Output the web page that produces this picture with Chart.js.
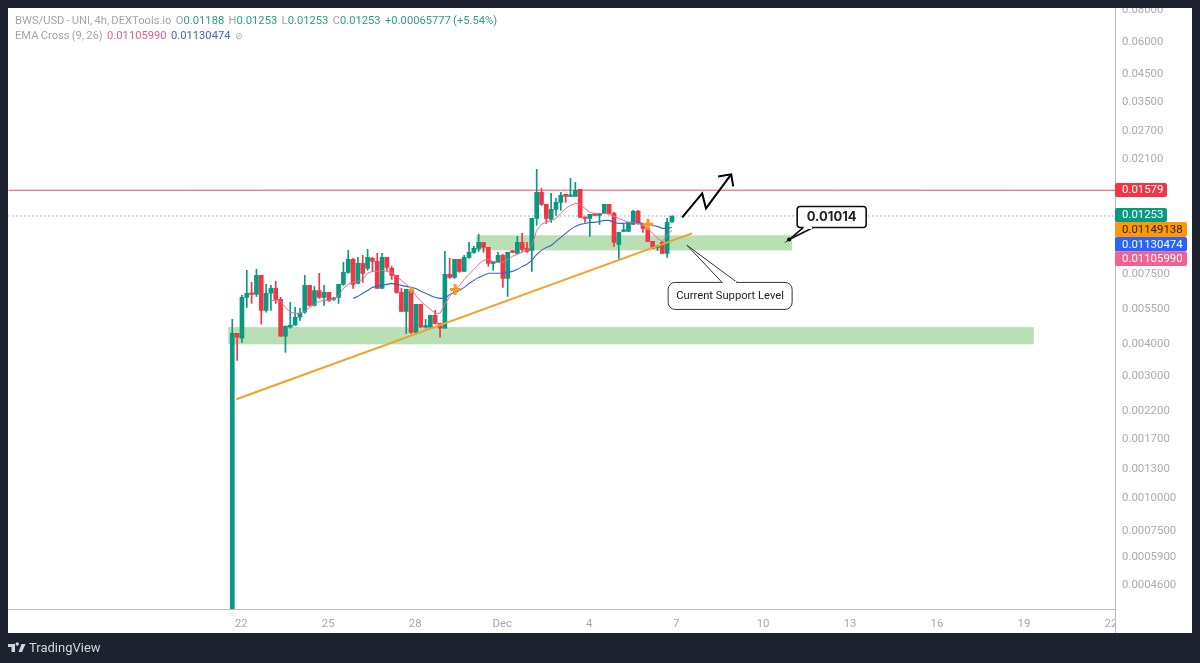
<!DOCTYPE html>
<html>
<head>
<meta charset="utf-8">
<title>BWS/USD</title>
<script src="https://cdn.jsdelivr.net/npm/chart.js@4/dist/chart.umd.js"></script>
<style>
html,body{margin:0;padding:0;background:#1d222e;width:1200px;height:663px;overflow:hidden;font-family:Roboto,"Liberation Sans",sans-serif}
#c{position:absolute;left:0;top:0}
.h{position:absolute;left:15px;font-size:11.2px;line-height:14px;color:#a2a5ab;white-space:pre;word-spacing:-0.6px}
.g{color:#2b9d84}.p{color:#e2608f}.b{color:#4663c4}
.k{font-size:9px}
#tv{position:absolute;left:8px;top:641px;height:14px}
#tvt{position:absolute;left:29px;top:640px;font-size:13px;line-height:16px;color:#d1d4dc}
</style>
</head>
<body>
<canvas id="c" width="1200" height="663"></canvas>
<div class="h" style="top:14px">BWS/USD - UNI, 4h, DEXTools.io  O<span class="g">0.01188</span>  H<span class="g">0.01253</span>  L<span class="g">0.01253</span>  C<span class="g">0.01253</span>  <span class="g">+0.00065777 (+5.54%)</span></div>
<div class="h" style="top:29px">EMA Cross (9, 26)  <span class="p">0.01105990</span>  <span class="b">0.01130474</span>  <span class="k">⊘</span></div>
<svg id="tv" viewBox="0 0 36 28" width="18" height="14"><path fill="#d1d4dc" d="M14 6H0v6h7v10h7V6zm14 16h-7l6-16h8l-7 16zm-6-16a3.5 3.5 0 1 1-7 0 3.5 3.5 0 0 1 7 0z"/></svg>
<div id="tvt">TradingView</div>
<script>
// Candles, 4h apart, first candle sits this many days before the "22" tick
const firstCandleDay = -0.31;
const candlesPerDay = 6;
const opens = [.00030,.00437,.00418,.00603,.00626,.00620,.00735,.00537,.00626,.00654,
.00593,.00426,.00462,.00470,.00505,.00528,.00672,.00562,.00642,.00603,
.00631,.00593,.00603,.00678,.00755,.00849,.00684,.00819,.00783,.00856,
.00834,.00654,.00864,.00783,.00735,.00631,.00532,.00648,.00441,.00567,
.00462,.00462,.00514,.00478,.00458,.00742,.00722,.00849,.00762,.00864,
.00904,.00937,.00988,.00945,.00819,.00826,.00880,.00716,.00912,.00896,
.00988,.00937,.00920,.01226,.01548,.01390,.01215,.01329,.01415,.01521,
.01494,.01494,.01590,.01237,.01226,.01271,.01259,.01282,.01390,.01282,
.00971,.01091,.01091,.01162,.01305,.01172,.01121,.00997,.00945,.00988,
.00896,.01188];
const closes = [.00437,.00422,.00603,.00626,.00620,.00735,.00537,.00626,.00654,.00593,
.00426,.00466,.00470,.00505,.00523,.00672,.00562,.00642,.00603,.00631,
.00587,.00598,.00678,.00755,.00849,.00678,.00819,.00749,.00864,.00834,
.00654,.00864,.00790,.00735,.00631,.00532,.00648,.00441,.00567,.00462,
.00466,.00514,.00478,.00458,.00742,.00722,.00849,.00762,.00864,.00904,
.00937,.00988,.00945,.00819,.00826,.00880,.00716,.00904,.00904,.00988,
.00928,.00912,.01226,.01548,.01390,.01226,.01329,.01415,.01507,.01494,
.01507,.01576,.01237,.01226,.01271,.01259,.01282,.01390,.01282,.00988,
.01081,.01101,.01172,.01305,.01172,.01121,.00997,.00937,.00954,.00896,
.01183,.01253];
const highs = [.00496,.00437,.00614,.00769,.00690,.00776,.00735,.00678,.00672,.00697,
.00603,.00466,.00577,.00552,.00547,.00735,.00672,.00666,.00749,.00672,
.00631,.00603,.00678,.00826,.00920,.00856,.00864,.00880,.00928,.00864,
.00896,.00896,.00864,.00797,.00735,.00654,.00648,.00660,.00567,.00567,
.00496,.00514,.00537,.00478,.00912,.00856,.00849,.00849,.00880,.00988,
.00954,.01062,.00988,.00945,.00826,.00904,.00888,.00904,.00920,.01043,
.01072,.00988,.01226,.01903,.01605,.01390,.01534,.01467,.01548,.01521,
.01755,.01693,.01590,.01237,.01271,.01271,.01282,.01390,.01390,.01294,
.01081,.01162,.01172,.01317,.01317,.01172,.01183,.00997,.00954,.00997,
.01226,.01253];
const lows = [.00030,.00343,.00403,.00552,.00572,.00609,.00474,.00528,.00537,.00572,
.00426,.00368,.00458,.00470,.00491,.00523,.00557,.00557,.00598,.00562,
.00582,.00587,.00572,.00672,.00749,.00654,.00684,.00690,.00769,.00762,
.00654,.00654,.00769,.00709,.00626,.00532,.00437,.00437,.00441,.00462,
.00458,.00458,.00474,.00422,.00458,.00716,.00716,.00755,.00762,.00856,
.00896,.00912,.00904,.00797,.00769,.00826,.00660,.00609,.00904,.00896,
.00912,.00904,.00762,.01151,.01378,.01172,.01183,.01259,.01317,.01415,
.01494,.01494,.01237,.01183,.01043,.01259,.01162,.01282,.01282,.00954,
.00849,.01091,.01091,.01162,.01162,.01081,.00997,.00937,.00920,.00896,
.00864,.01183];
// EMA lines start later than the candles
const ema9Start = 8;
const ema9 = [.00587,.00587,.00582,.00552,.00528,.00523,.00523,.00532,.00552,.00567,
.00582,.00587,.00587,.00593,.00614,.00654,.00678,.00690,.00697,.00709,
.00749,.00762,.00762,.00769,.00762,.00755,.00729,.00703,.00678,.00654,
.00614,.00582,.00562,.00542,.00523,.00523,.00567,.00609,.00642,.00672,
.00709,.00742,.00776,.00812,.00841,.00849,.00834,.00826,.00826,.00849,
.00872,.00888,.00904,.00920,.00962,.01101,.01162,.01183,.01204,.01226,
.01282,.01341,.01378,.01403,.01390,.01341,.01294,.01282,.01282,.01282,
.01271,.01248,.01226,.01204,.01183,.01183,.01172,.01151,.01121,.01072,
.01025,.00997,.01053,.01106];
const ema26Start = 25;
const ema26 = [.00598,.00609,.00626,.00642,.00660,.00666,.00672,.00678,.00684,.00678,
.00672,.00666,.00660,.00654,.00637,.00626,.00614,.00603,.00598,.00598,
.00620,.00631,.00642,.00660,.00684,.00703,.00722,.00735,.00749,.00749,
.00749,.00749,.00755,.00762,.00776,.00797,.00812,.00841,.00888,.00920,
.00945,.00962,.00997,.01034,.01072,.01111,.01141,.01162,.01172,.01183,
.01183,.01193,.01204,.01204,.01183,.01172,.01172,.01183,.01183,.01183,
.01172,.01162,.01151,.01141,.01121,.01121,.01130];
// Axis ticks (x in days after 22 Nov)
const xTickDays = [0,3,6,9,12,15,18,21,24,27,30];
const xTickLabels = ['22','25','28','Dec','4','7','10','13','16','19','22'];
const yTickValues = [.08,.06,.045,.035,.027,.021,.0075,.0055,.004,.003,.0022,.0017,.0013,.001,.00075,.00059,.00046];
const yTickLabels = ['0.08000','0.06000','0.04500','0.03500','0.02700','0.02100','0.007500','0.005500','0.004000','0.003000','0.002200','0.001700','0.001300','0.0010000','0.0007500','0.0005900','0.0004600'];
// Drawing tools
const resistanceLevel = [0.01579];
const lastPriceLevel = [0.01253];
const trendDays = [-0.17,15.55];
const trendValues = [.002418,.01072];
const crossDays = [5.86,7.38,14.03];
const crossValues = [.00645,.00648,.01162];
const pathDays = [15.21,15.90,16.03,16.90];
const pathValues = [.01237,.01534,.01341,.01820];
const headDays = [16.45,16.90,16.97];
const headValues = [.01787,.01820,.01634];
const zoneDays = [[-0.448,27.34],[8.10,19.0]];
const zoneValues = [[.00462,.00396],[.01053,.00920]];
const tagTexts = ['0.01579','0.01253','0.01149138','0.01130474','0.01105990'];
const tagColors = ['#f23645','#089981','#ff9800','#2962ff','#f06292'];
const tagTextColors = ['#fff','#fff','#222','#fff','#fff'];

const GREEN='#089981', RED='#f23645';
const dayOf = i => firstCandleDay + i/candlesPerDay;
const up = opens.map((o,i)=>closes[i]>=o);
const cols = up.map(u=>u?GREEN:RED);
const wickPts = highs.map((h,i)=>({x:dayOf(i),y:[lows[i],h]}));
const bodyPts = opens.map((o,i)=>({x:dayOf(i),y:[Math.min(o,closes[i]),Math.max(o,closes[i])]}));
const lvl = (v)=>[{x:-9,y:v},{x:31,y:v}];
const xy = (ds,vs)=>ds.map((d,i)=>({x:d,y:vs[i]}));
const lineBase = {type:'line',pointRadius:0,borderJoinStyle:'miter',tension:0,fill:false};

const panel = {id:'panel',
 beforeDraw(ch){const c=ch.ctx;c.save();c.fillStyle='#fff';c.fillRect(8,8,1184,625);c.restore();},
 beforeDatasetsDraw(ch){
  const c=ch.ctx,X=ch.scales.x,Y=ch.scales.y;c.save();c.fillStyle='#b9dfb5';
  zoneDays.forEach((z,i)=>{const x0=X.getPixelForValue(z[0]),x1=X.getPixelForValue(z[1]),y0=Y.getPixelForValue(zoneValues[i][0]),y1=Y.getPixelForValue(zoneValues[i][1]);c.fillRect(x0,y0,x1-x0,y1-y0);});
  c.restore();
 },
 afterDatasetsDraw(ch){
  const c=ch.ctx,X=ch.scales.x,Y=ch.scales.y;c.save();
  const callout=(d,v,bx,by,w,h,b0,b1,text,font,baseOnTop,dot)=>{
   const ax=X.getPixelForValue(d),ay=Y.getPixelForValue(v);
   const l=ax+bx,t=ay+by,ey=baseOnTop?t:t+h;
   c.fillStyle='#fff';c.strokeStyle=baseOnTop?'#333':'#111';c.lineWidth=baseOnTop?1:1.6;
   c.beginPath();c.roundRect(l,t,w,h,baseOnTop?7:3);c.fill();c.stroke();
   c.beginPath();c.moveTo(ax+b0,ey);c.lineTo(ax,ay);c.lineTo(ax+b1,ey);c.closePath();c.fill();
   c.beginPath();c.moveTo(ax+b0,ey);c.lineTo(ax,ay);c.lineTo(ax+b1,ey);c.stroke();
   c.fillStyle='#fff';c.fillRect(ax+b0+1,ey-1.2,b1-b0-2,2.6);
   if(dot){c.fillStyle='#000';c.beginPath();c.arc(ax,ay,2,0,7);c.fill();}
   c.fillStyle='#222';c.font=font;c.textAlign='center';c.textBaseline='middle';c.fillText(text,l+w/2,t+h/2+0.5);
  };
  callout(15.38,.00962,-19,37,124,27,35,50,'Current Support Level','11.2px Roboto',true,false);
  callout(18.9,.01014,8,-33,69,21,14,24,'0.01014','700 13px Inter',false,true);
  c.restore();
 },
 afterDraw(ch){
  const c=ch.ctx,X=ch.scales.x,Y=ch.scales.y;c.save();
  // price scale covers the last time label
  c.fillStyle='#fff';c.fillRect(1115,610,77,23);
  c.fillStyle='#b8bbc0';c.fillRect(1115,8,1,625);
  // frame over the clipped top label
  c.fillStyle='#1d222e';c.fillRect(1000,0,200,8);
  // price tags
  const tops=[183,208,222,237,251.5],hs=[14,14,15,14.5,14.5],ws=[52,52,72,72,72];
  c.font='11.4px Roboto';c.textAlign='left';c.textBaseline='middle';
  tagTexts.forEach((t,i)=>{
   c.fillStyle=tagColors[i];c.beginPath();c.roundRect(1115,tops[i],ws[i],hs[i],2);c.fill();
   c.fillStyle=tagTextColors[i];c.fillText(t,1122,tops[i]+hs[i]/2+0.5);
  });
  c.restore();
 }
};

new Chart(document.getElementById('c'),{
 data:{datasets:[
  {...lineBase,label:'Resistance',data:lvl(resistanceLevel[0]),borderColor:'#e04f5c',borderWidth:1,order:8},
  {...lineBase,label:'Last price',data:lvl(lastPriceLevel[0]),borderColor:'#2a9d8f',borderWidth:1,borderDash:[1,3],order:8},
  {type:'bar',label:'Wicks',data:wickPts,backgroundColor:cols,barThickness:1,grouped:false,order:6},
  {type:'bar',label:'Bodies',data:bodyPts,backgroundColor:cols,barThickness:4,minBarLength:1.5,grouped:false,order:5},
  {...lineBase,label:'EMA 9',data:ema9.map((v,i)=>({x:dayOf(i+ema9Start),y:v})),borderColor:'#e86a98',borderWidth:1,order:4},
  {...lineBase,label:'EMA 26',data:ema26.map((v,i)=>({x:dayOf(i+ema26Start),y:v})),borderColor:'#3f62cc',borderWidth:1.1,order:4},
  {...lineBase,label:'Trend',data:xy(trendDays,trendValues),borderColor:'#f0a32a',borderWidth:2,order:3},
  {...lineBase,label:'Cross',data:xy(crossDays,crossValues),showLine:false,pointStyle:'cross',pointRadius:[3,5.5,5.5],pointBorderWidth:[2,3,3],pointBorderColor:'#f79a1f',order:2},
  {...lineBase,label:'Path',data:xy(pathDays,pathValues),borderColor:'#000',borderWidth:2,order:1},
  {...lineBase,label:'Head',data:xy(headDays,headValues),borderColor:'#000',borderWidth:2,order:1}
 ]},
 options:{
  responsive:false,animation:false,devicePixelRatio:1,
  layout:{padding:{left:8,top:8,right:8,bottom:30}},
  plugins:{legend:{display:false},tooltip:{enabled:false}},
  scales:{
   x:{type:'linear',offset:false,min:-8.03,max:30.14,
    grid:{display:false,drawTicks:false},border:{display:true,color:'#b8bbc0'},
    afterBuildTicks(s){s.ticks=xTickDays.map(v=>({value:v}));},
    afterFit(s){s.height=24;s.paddingLeft=0;s.paddingRight=0;},
    ticks:{autoSkip:false,maxRotation:0,padding:8,color:'#a6a8ad',font:{family:'Roboto',size:11.4},callback:(v,i)=>xTickLabels[i]}
   },
   y:{type:'logarithmic',position:'right',min:.000368,max:.08067,
    grid:{display:false,drawTicks:false},border:{display:false},
    afterBuildTicks(s){s.ticks=yTickValues.map(v=>({value:v}));},
    afterFit(s){s.width=77;s.paddingTop=0;s.paddingBottom=0;},
    ticks:{autoSkip:false,padding:7,labelOffset:1,color:'#a9abb0',font:{family:'Roboto',size:11.4},callback:(v,i)=>yTickLabels[i]}
   }
  }
 },
 plugins:[panel]
});
</script>
</body>
</html>
